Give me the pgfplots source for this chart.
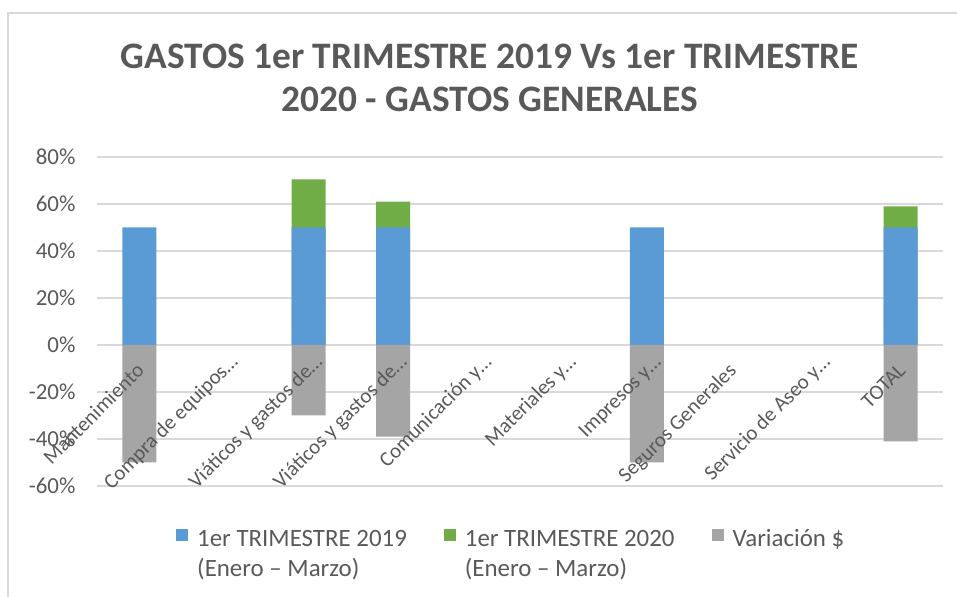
\documentclass[border=0pt]{standalone}
\usepackage{pgfplots}
\pgfplotsset{compat=1.18}
\usepackage{fontspec}
\setmainfont{Carlito}
\definecolor{cblue}{HTML}{5B9BD5}
\definecolor{cgreen}{HTML}{70AD47}
\definecolor{cgray}{HTML}{A5A5A5}
\definecolor{ctext}{HTML}{595959}
\definecolor{cgrid}{HTML}{D9D9D9}
\newcommand{\titlefont}{\fontsize{37.5}{45}\selectfont\bfseries}
\newcommand{\tickfont}{\fontsize{23}{27}\selectfont}
\newcommand{\xlfont}{\fontsize{21}{25}\selectfont}
\newcommand{\legfont}{\fontsize{25}{30}\selectfont}
\pgfplotsset{
  mylegend/.style={legend image code/.code={
    \path[fill=none, draw=none] (0bp,-23bp) rectangle (12bp,23bp);
    \fill[##1] (0bp,11bp) rectangle (12bp,23bp);}}
}
\begin{document}
\begin{tikzpicture}[x=1bp,y=1bp]
\path[use as bounding box] (0,0) rectangle (957,597);
\draw[cgrid, line width=1.5bp] (8,0) -- (8,584) -- (957,584);
\node[font=\titlefont, text=ctext, anchor=base] at (490,528) {GASTOS 1er TRIMESTRE 2019 Vs 1er TRIMESTRE};
\node[font=\titlefont, text=ctext, anchor=base] at (490,485) {2020 - GASTOS GENERALES};
\begin{axis}[
  at={(97bp,111bp)}, anchor=south west,
  width=846bp, height=329bp, scale only axis,
  ybar=0pt, bar shift=0pt, bar width=34bp,
  xmin=-0.5, xmax=9.5, ymin=-60, ymax=80,
  xtick=\empty,
  ytick={-60,-40,...,80},
  ymajorgrids, grid style={cgrid, line width=1.2bp},
  axis line style={draw=none}, major tick length=0pt,
  /pgf/number format/assume math mode=true,
  yticklabel={\pgfmathprintnumber{\tick}\%},
  yticklabel style={font=\tickfont, text=ctext, xshift=-18bp},
  clip=false,
  legend columns=3,
  legend cell align=left,
  legend style={draw=none, fill=none, inner sep=0pt, at={(0.0934,-0.113)}, anchor=north west,
    font=\legfont, text=ctext, cells={align=left},
    /tikz/every odd column/.append style={column sep=7bp},
    /tikz/every even column/.append style={column sep=35bp}},
]
\addlegendimage{fill=cblue, draw=none, mylegend}
\addlegendentry{1er TRIMESTRE 2019\strut\\(Enero – Marzo)\strut}
\addlegendimage{fill=cgreen, draw=none, mylegend}
\addlegendentry{1er TRIMESTRE 2020\strut\\(Enero – Marzo)\strut}
\addlegendimage{fill=cgray, draw=none, mylegend}
\addlegendentry{Variación \$\strut\\\strut}
% 1er TRIMESTRE 2020: top of the stacked bar (2019 share + 2020 share)
\addplot[fill=cgreen, draw=none, forget plot] coordinates {
  (2,70.5) (3,61) (9,59)};
% 1er TRIMESTRE 2019
\addplot[fill=cblue, draw=none, forget plot] coordinates {
  (0,50) (2,50) (3,50) (6,50) (9,50)};
% Variacion $
\addplot[fill=cgray, draw=none, forget plot] coordinates {
  (0,-50) (2,-30) (3,-39) (6,-50) (9,-41)};
\begin{scope}[every node/.style={anchor=base east, rotate=45, inner sep=0pt, font=\xlfont, text=ctext}]
\node at ([xshift=6bp,yshift=-27bp]axis cs:0,0) {Mantenimiento};
\node at ([xshift=15bp,yshift=-18bp]axis cs:1,0) {Compra de equipos…};
\node at ([xshift=15bp,yshift=-18bp]axis cs:2,0) {Viáticos y gastos de…};
\node at ([xshift=15bp,yshift=-18bp]axis cs:3,0) {Viáticos y gastos de…};
\node at ([xshift=15bp,yshift=-18bp]axis cs:4,0) {Comunicación y…};
\node at ([xshift=15bp,yshift=-18bp]axis cs:5,0) {Materiales y…};
\node at ([xshift=15bp,yshift=-18bp]axis cs:6,0) {Impresos y…};
\node at ([xshift=6bp,yshift=-27bp]axis cs:7,0) {Seguros Generales};
\node at ([xshift=15bp,yshift=-18bp]axis cs:8,0) {Servicio de Aseo y…};
\node at ([xshift=6bp,yshift=-27bp]axis cs:9,0) {TOTAL};
\end{scope}
\end{axis}
\end{tikzpicture}
\end{document}
